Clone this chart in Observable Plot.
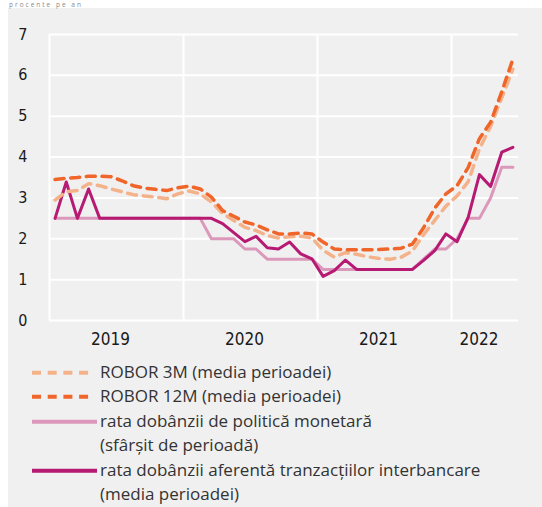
<!DOCTYPE html>
<html>
<head>
<meta charset="utf-8">
<script src="https://cdn.jsdelivr.net/npm/d3@7"></script>
<script src="https://cdn.jsdelivr.net/npm/@observablehq/plot@0.6"></script>
<style>
  html, body { margin: 0; padding: 0; background: #ffffff; }
  #wrap { position: relative; width: 542px; height: 507px; overflow: hidden; }
  #panel { position: absolute; left: 8px; top: 8px; width: 534px; height: 499px; background: #f0f0f0; }
  #unit { position: absolute; left: 0; top: 0; }
  #chart { position: absolute; left: 0; top: 0; }
  #legend { position: absolute; left: 32px; top: 359.5px; font-family: "Open Sans", "Noto Sans", sans-serif;
            font-size: 17px; color: #333333; line-height: 24.6px; }
  .item { display: flex; align-items: flex-start; }
  .item svg { flex: none; }
</style>
</head>
<body>
<div id="wrap">
  <div id="panel"></div>
  <div id="chart"></div>
  <svg id="unit" width="200" height="12"><text x="9" y="7.3" font-family="Open Sans, sans-serif" font-size="6.5" letter-spacing="2" fill="#8a8a8a"></text></svg>
  <div id="legend"></div>
</div>
<script>
// ---- data (monthly, Jan 2019 – Jun 2022) ----
const months = [
  "2019-01","2019-02","2019-03","2019-04","2019-05","2019-06","2019-07","2019-08","2019-09","2019-10","2019-11","2019-12",
  "2020-01","2020-02","2020-03","2020-04","2020-05","2020-06","2020-07","2020-08","2020-09","2020-10","2020-11","2020-12",
  "2021-01","2021-02","2021-03","2021-04","2021-05","2021-06","2021-07","2021-08","2021-09","2021-10","2021-11","2021-12",
  "2022-01","2022-02","2022-03","2022-04","2022-05","2022-06"
];
const robor3m = [
  2.95,3.15,3.18,3.35,3.30,3.22,3.15,3.08,3.05,3.02,2.98,3.10,
  3.17,3.10,2.90,2.62,2.45,2.28,2.20,2.08,2.02,2.05,2.06,2.02,
  1.72,1.55,1.66,1.62,1.56,1.52,1.50,1.55,1.70,2.10,2.45,2.80,
  3.05,3.40,4.20,4.75,5.45,6.15
];
const robor12m = [
  3.45,3.48,3.50,3.53,3.53,3.52,3.42,3.30,3.24,3.21,3.18,3.25,
  3.29,3.22,3.02,2.69,2.55,2.41,2.34,2.22,2.12,2.12,2.14,2.12,
  1.92,1.75,1.73,1.73,1.73,1.74,1.75,1.77,1.87,2.27,2.75,3.10,
  3.30,3.75,4.45,4.85,5.60,6.40
];
const policyRate = [
  2.50,2.50,2.50,2.50,2.50,2.50,2.50,2.50,2.50,2.50,2.50,2.50,
  2.50,2.50,2.00,2.00,2.00,1.75,1.75,1.50,1.50,1.50,1.50,1.50,
  1.25,1.25,1.25,1.25,1.25,1.25,1.25,1.25,1.25,1.50,1.75,1.75,
  2.00,2.50,2.50,3.00,3.75,3.75
];
const interbankRate = [
  2.50,3.39,2.50,3.22,2.50,2.50,2.50,2.50,2.50,2.50,2.50,2.50,
  2.50,2.50,2.50,2.37,2.15,1.93,2.06,1.78,1.75,1.92,1.63,1.51,
  1.08,1.22,1.48,1.25,1.25,1.25,1.25,1.25,1.25,1.47,1.71,2.12,
  1.93,2.53,3.57,3.28,4.12,4.24
];
const yearLabels = ["2019","2020","2021","2022"];
const yTicks = [0,1,2,3,4,5,6,7];
const seriesNames = [
  "ROBOR 3M (media perioadei)",
  "ROBOR 12M (media perioadei)",
  "rata dobânzii de politică monetară<br>(sfârșit de perioadă)",
  "rata dobânzii aferentă tranzacțiilor interbancare<br>(media perioadei)"
];
const seriesColors = ["#f4b28a", "#f0662a", "#dc98bb", "#b71a73"];
const unitLabel = "procente pe an";

// ---- build table ----
const rows = months.map((m, i) => ({
  i, m,
  r3: robor3m[i], r12: robor12m[i], pol: policyRate[i], ib: interbankRate[i]
}));
const yearBounds = rows.filter(d => d.m.endsWith("-01")).map(d => d.i - 0.5);
const yearPos = yearLabels.map(y => {
  const idx = rows.filter(d => d.m.startsWith(y)).map(d => d.i);
  return {label: y, x: (d3.min(idx) + d3.max(idx)) / 2};
});

const condensed = "'Liberation Sans Narrow', 'DejaVu Sans Condensed', 'Roboto Condensed', Roboto, sans-serif";
const dash = "9,6.7";

const chart = Plot.plot({
  width: 542,
  height: 360,
  marginLeft: 49,
  marginRight: 24,
  marginTop: 34,
  marginBottom: 40,
  x: {domain: [-0.5, months.length - 0.5], axis: null},
  y: {domain: [0, 7]},
  style: {background: "transparent", fontFamily: condensed, fontSize: "16px", color: "#1a1a1a", overflow: "visible"},
  marks: [
    Plot.ruleY(yTicks, {stroke: "#ffffff", strokeWidth: 2, strokeOpacity: 1}),
    Plot.ruleX(yearBounds, {stroke: "#ffffff", strokeWidth: 2, strokeOpacity: 1}),
    Plot.axisY({ticks: yTicks, tickSize: 0, tickPadding: 22, label: null, fontSize: 16, tickFormat: d => String(d), fill: "#1a1a1a"}),
    Plot.text(yearPos, {x: "x", text: "label", frameAnchor: "bottom", dy: 24, dx: -6, fontSize: 17, fill: "#1a1a1a", fontFamily: condensed}),
    Plot.line(rows, {x: "i", y: "pol", stroke: seriesColors[2], strokeWidth: 3, curve: "linear"}),
    Plot.line(rows, {x: "i", y: "ib", stroke: seriesColors[3], strokeWidth: 3, curve: "linear"}),
    Plot.line(rows, {x: "i", y: "r3", stroke: seriesColors[0], strokeWidth: 3.5, strokeDasharray: dash, curve: "linear"}),
    Plot.line(rows, {x: "i", y: "r12", stroke: seriesColors[1], strokeWidth: 3.5, strokeDasharray: dash, curve: "linear"})
  ]
});
document.getElementById("chart").appendChild(chart);
document.querySelector("#unit text").textContent = unitLabel;

// ---- legend ----
const legend = document.getElementById("legend");
seriesNames.forEach((name, k) => {
  const dashed = k < 2;
  const w = 68;
  const len = dashed ? 57 : 65;
  const item = document.createElement("div");
  item.className = "item";
  item.innerHTML =
    `<svg width="${w}" height="24.6"><line x1="0" x2="${len}" y1="12.8" y2="12.8" stroke="${seriesColors[k]}" stroke-width="4" ${dashed ? `stroke-dasharray="${dash}"` : ""}/></svg>` +
    `<div>${name}</div>`;
  legend.appendChild(item);
});
</script>
</body>
</html>
